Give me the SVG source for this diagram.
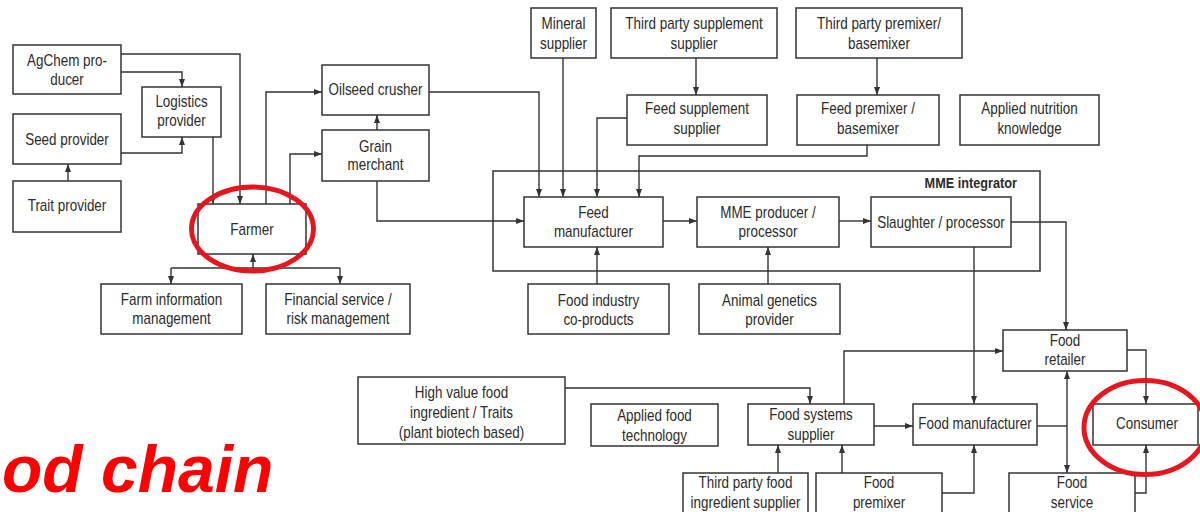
<svg xmlns="http://www.w3.org/2000/svg" width="1200" height="512" viewBox="0 0 1200 512">
<style>
.b{fill:#fff;stroke:#333;stroke-width:1.5}
.t{font-family:"Liberation Sans",Arial,sans-serif;font-size:16px;fill:#2b2b2b;text-anchor:middle}
.bold{font-weight:bold;font-size:15.5px;text-anchor:end}
.c{fill:none;stroke:#333;stroke-width:1.4}
.a{marker-end:url(#ah)}
.ring{fill:none;stroke:#e5161d;stroke-width:5}
</style>
<defs>
<marker id="ah" markerUnits="userSpaceOnUse" markerWidth="8" markerHeight="6" refX="8" refY="3" orient="auto">
<path d="M0,0 L8,3 L0,6 z" fill="#333"/>
</marker>
</defs>
<rect width="1200" height="512" fill="#fff"/>

<g id="integrator">
<rect class="b" x="493" y="171" width="547" height="100"/>
<text class="t bold" transform="translate(1017,0) scale(.82,1)" y="188">MME integrator</text>
</g>

<g id="connectors">
<path class="c a" d="M121,54 H240 V204"/>
<path class="c a" d="M121,72 H182 V87"/>
<path class="c a" d="M121,153 H182 V137"/>
<path class="c a" d="M68,181 V164"/>
<path class="c a" d="M213,137 V204"/>
<path class="c a" d="M266,204 V92 H322"/>
<path class="c a" d="M290,204 V154 H322"/>
<path class="c a" d="M377,130 V115"/>
<path class="c a" d="M429,92 H539 V197"/>
<path class="c a" d="M377,181 V221 H524"/>
<path class="c a" d="M563,58 V197"/>
<path class="c a" d="M696,58 V95"/>
<path class="c a" d="M627,118 H597 V197"/>
<path class="c a" d="M877,58 V95"/>
<path class="c a" d="M867,145 V156 H639 V197"/>
<path class="c a" d="M663,221 H697"/>
<path class="c a" d="M839,221 H871"/>
<path class="c a" d="M597,284 V247"/>
<path class="c a" d="M768,284 V247"/>
<path class="c a" d="M1011,222 H1066 V330"/>
<path class="c a" d="M974,247 V404"/>
<path class="c a" d="M253,268 V254"/>
<path class="c" d="M171,268 H340"/>
<path class="c a" d="M171,268 V284"/>
<path class="c a" d="M340,268 V284"/>
<path class="c a" d="M565,388 H810 V404"/>
<path class="c a" d="M844,404 V351 H1003"/>
<path class="c a" d="M874,426 H913"/>
<path class="c a" d="M778,473 V445"/>
<path class="c a" d="M842,473 V445"/>
<path class="c a" d="M942,493 H974 V445"/>
<path class="c" d="M1037,426 H1067"/>
<path class="c a" d="M1067,426 V371"/>
<path class="c a" d="M1067,426 V473"/>
<path class="c a" d="M1127,350 H1146 V404"/>
<path class="c a" d="M1135,493 H1146 V445"/>
</g>

<g id="agchem"><rect class="b" x="13" y="45" width="108" height="49"/><text class="t" transform="translate(67,0) scale(.84,1)" y="66">AgChem pro-</text><text class="t" transform="translate(67,0) scale(.84,1)" y="85">ducer</text></g>
<g id="logistics"><rect class="b" x="142" y="87" width="79" height="50"/><text class="t" transform="translate(181.5,0) scale(.84,1)" y="107">Logistics</text><text class="t" transform="translate(181.5,0) scale(.84,1)" y="126">provider</text></g>
<g id="seed"><rect class="b" x="13" y="114" width="108" height="50"/><text class="t" transform="translate(67,0) scale(.84,1)" y="145">Seed provider</text></g>
<g id="trait"><rect class="b" x="13" y="181" width="108" height="51"/><text class="t" transform="translate(67,0) scale(.84,1)" y="211">Trait provider</text></g>
<g id="farmer"><rect class="b" x="198" y="204" width="108" height="50"/><text class="t" transform="translate(252,0) scale(.84,1)" y="235">Farmer</text></g>
<g id="oilseed"><rect class="b" x="322" y="65" width="107" height="50"/><text class="t" transform="translate(375.5,0) scale(.84,1)" y="95">Oilseed crusher</text></g>
<g id="grain"><rect class="b" x="322" y="130" width="107" height="51"/><text class="t" transform="translate(375.5,0) scale(.84,1)" y="152">Grain</text><text class="t" transform="translate(375.5,0) scale(.84,1)" y="170">merchant</text></g>
<g id="mineral"><rect class="b" x="531" y="8" width="65" height="50"/><text class="t" transform="translate(563.5,0) scale(.84,1)" y="29">Mineral</text><text class="t" transform="translate(563.5,0) scale(.84,1)" y="49">supplier</text></g>
<g id="tpsupp"><rect class="b" x="611" y="8" width="166" height="50"/><text class="t" transform="translate(694,0) scale(.84,1)" y="29">Third party supplement</text><text class="t" transform="translate(694,0) scale(.84,1)" y="49">supplier</text></g>
<g id="feedsupp"><rect class="b" x="627" y="95" width="140" height="50"/><text class="t" transform="translate(697,0) scale(.84,1)" y="114">Feed supplement</text><text class="t" transform="translate(697,0) scale(.84,1)" y="134">supplier</text></g>
<g id="tppremix"><rect class="b" x="796" y="8" width="166" height="50"/><text class="t" transform="translate(879,0) scale(.84,1)" y="29">Third party premixer/</text><text class="t" transform="translate(879,0) scale(.84,1)" y="49">basemixer</text></g>
<g id="feedpremix"><rect class="b" x="797" y="95" width="142" height="50"/><text class="t" transform="translate(868,0) scale(.84,1)" y="114">Feed premixer /</text><text class="t" transform="translate(868,0) scale(.84,1)" y="134">basemixer</text></g>
<g id="nutrition"><rect class="b" x="960" y="95" width="139" height="50"/><text class="t" transform="translate(1029.5,0) scale(.84,1)" y="114">Applied nutrition</text><text class="t" transform="translate(1029.5,0) scale(.84,1)" y="134">knowledge</text></g>
<g id="feedmfr"><rect class="b" x="524" y="197" width="139" height="50"/><text class="t" transform="translate(593.5,0) scale(.84,1)" y="218">Feed</text><text class="t" transform="translate(593.5,0) scale(.84,1)" y="237">manufacturer</text></g>
<g id="mme"><rect class="b" x="697" y="197" width="142" height="50"/><text class="t" transform="translate(768,0) scale(.84,1)" y="218">MME producer /</text><text class="t" transform="translate(768,0) scale(.84,1)" y="237">processor</text></g>
<g id="slaughter"><rect class="b" x="871" y="197" width="140" height="50"/><text class="t" transform="translate(941,0) scale(.84,1)" y="228">Slaughter / processor</text></g>
<g id="coproducts"><rect class="b" x="528" y="284" width="141" height="50"/><text class="t" transform="translate(598.5,0) scale(.84,1)" y="306">Food industry</text><text class="t" transform="translate(598.5,0) scale(.84,1)" y="325">co-products</text></g>
<g id="genetics"><rect class="b" x="699" y="284" width="141" height="50"/><text class="t" transform="translate(769.5,0) scale(.84,1)" y="306">Animal genetics</text><text class="t" transform="translate(769.5,0) scale(.84,1)" y="325">provider</text></g>
<g id="farminfo"><rect class="b" x="101" y="284" width="141" height="50"/><text class="t" transform="translate(171.5,0) scale(.84,1)" y="305">Farm information</text><text class="t" transform="translate(171.5,0) scale(.84,1)" y="324">management</text></g>
<g id="financial"><rect class="b" x="266" y="284" width="144" height="50"/><text class="t" transform="translate(338,0) scale(.84,1)" y="305">Financial service /</text><text class="t" transform="translate(338,0) scale(.84,1)" y="324">risk management</text></g>
<g id="highvalue"><rect class="b" x="358" y="377" width="207" height="67"/><text class="t" transform="translate(461.5,0) scale(.84,1)" y="398">High value food</text><text class="t" transform="translate(461.5,0) scale(.84,1)" y="418">ingredient / Traits</text><text class="t" transform="translate(461.5,0) scale(.84,1)" y="438">(plant biotech based)</text></g>
<g id="foodtech"><rect class="b" x="591" y="404" width="127" height="42"/><text class="t" transform="translate(654.5,0) scale(.84,1)" y="421">Applied food</text><text class="t" transform="translate(654.5,0) scale(.84,1)" y="441">technology</text></g>
<g id="foodsystems"><rect class="b" x="748" y="404" width="126" height="41"/><text class="t" transform="translate(811,0) scale(.84,1)" y="420">Food systems</text><text class="t" transform="translate(811,0) scale(.84,1)" y="440">supplier</text></g>
<g id="foodmfr"><rect class="b" x="913" y="404" width="124" height="41"/><text class="t" transform="translate(975,0) scale(.84,1)" y="429">Food manufacturer</text></g>
<g id="retailer"><rect class="b" x="1003" y="330" width="124" height="41"/><text class="t" transform="translate(1065,0) scale(.84,1)" y="346">Food</text><text class="t" transform="translate(1065,0) scale(.84,1)" y="365">retailer</text></g>
<g id="consumer"><rect class="b" x="1093" y="404" width="105" height="41"/><text class="t" transform="translate(1147,0) scale(.84,1)" y="429">Consumer</text></g>
<g id="tpfood"><rect class="b" x="683" y="473" width="125" height="50"/><text class="t" transform="translate(745.5,0) scale(.84,1)" y="488">Third  party food</text><text class="t" transform="translate(745.5,0) scale(.84,1)" y="508">ingredient supplier</text></g>
<g id="foodpremix"><rect class="b" x="816" y="473" width="126" height="50"/><text class="t" transform="translate(879,0) scale(.84,1)" y="488">Food</text><text class="t" transform="translate(879,0) scale(.84,1)" y="508">premixer</text></g>
<g id="foodservice"><rect class="b" x="1009" y="473" width="126" height="50"/><text class="t" transform="translate(1072,0) scale(.84,1)" y="488">Food</text><text class="t" transform="translate(1072,0) scale(.84,1)" y="508">service</text></g>

<g id="highlights">
<ellipse class="ring" cx="252.5" cy="229" rx="61" ry="42"/>
<ellipse class="ring" cx="1145" cy="427.5" rx="61" ry="47"/>
</g>
<text x="2" y="492" font-family="Liberation Sans, Arial, sans-serif" font-weight="bold" font-style="italic" font-size="66" fill="#ff0000">od chain</text>
</svg>
